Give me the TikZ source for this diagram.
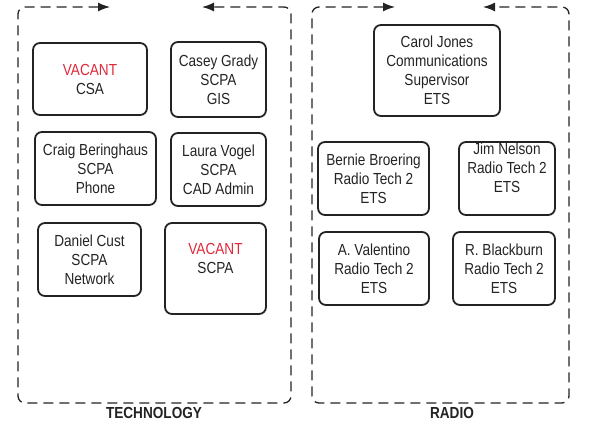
\documentclass[tikz,border=0pt]{standalone}
\usepackage{fontspec}
\setmainfont{Liberation Sans}[FakeStretch=0.85]
\usetikzlibrary{arrows.meta}
\definecolor{vacant}{RGB}{222,40,60}
\definecolor{ink}{RGB}{35,35,35}
\newcommand{\vac}{\textcolor{vacant}{VACANT}}
\tikzset{
  x=1pt, y=-1pt,
  card/.style={draw=ink, line width=1.8pt, rounded corners=7pt, inner sep=0pt,
    align=center, font=\fontsize{16}{19}\selectfont, text=ink},
  cardtext/.style={inner sep=0pt, align=center, font=\fontsize{16}{19}\selectfont, text=ink},
  frame/.style={draw=ink, line width=1.3pt, dash pattern=on 10pt off 6pt,
    rounded corners=7pt, {Latex[length=12pt,width=9pt]}-{Latex[length=12pt,width=9pt]}},
  grouplabel/.style={inner sep=0pt, font=\fontsize{16}{19}\selectfont\bfseries, text=ink}
}
\begin{document}
\begin{tikzpicture}
\useasboundingbox (0,0) rectangle (598,425);

% corners of the two group frames and the arrow ends on their top edges
\coordinate (tA) at (110,7);  \coordinate (tB) at (202,7);
\coordinate (tNW) at (18,7);  \coordinate (tSW) at (18,403);
\coordinate (tSE) at (291,403); \coordinate (tNE) at (291,7);
\coordinate (rA) at (395,7);  \coordinate (rB) at (483,7);
\coordinate (rNW) at (312,7); \coordinate (rSW) at (312,403);
\coordinate (rSE) at (569,403); \coordinate (rNE) at (569,7);

\draw[frame] (tA) -- (tNW) -- (tSW) -- (tSE) -- (tNE) -- (tB);
\draw[frame] (rA) -- (rNW) -- (rSW) -- (rSE) -- (rNE) -- (rB);

\node[grouplabel] (techlabel) at (154,413) {TECHNOLOGY};
\node[grouplabel] (radiolabel) at (452,413) {RADIO};

% technology group
\node[card, minimum width=114pt, minimum height=72pt] (csa) at (90,79) {\vac\\CSA};
\node[card, minimum width=95pt, minimum height=75pt] (gis) at (218.5,79.5) {Casey Grady\\SCPA\\GIS};
\node[card, minimum width=121pt, minimum height=73pt] (phone) at (95.5,168.5) {Craig Beringhaus\\SCPA\\Phone};
\node[card, minimum width=95pt, minimum height=73pt] (cad) at (218.5,169.5) {Laura Vogel\\SCPA\\CAD Admin};
\node[card, minimum width=103pt, minimum height=73pt] (net) at (89.5,259.5) {Daniel Cust\\SCPA\\Network};
\node[card, minimum width=101pt, minimum height=91pt] (scpa) at (215.5,268.5) {};
\node[cardtext] (scpatext) at ([yshift=10pt]scpa.center) {\vac\\SCPA};

% radio group
\node[card, minimum width=126pt, minimum height=91pt] (carol) at (437,70.5) {Carol Jones\\Communications\\Supervisor\\ETS};
\node[card, minimum width=111pt, minimum height=73pt] (bernie) at (373.5,178.5) {Bernie Broering\\Radio Tech 2\\ETS};
\node[card, minimum width=96pt, minimum height=73pt] (jim) at (507,178.5) {};
\node[cardtext] (jimtext) at ([yshift=11pt]jim.center) {Jim Nelson\\Radio Tech 2\\ETS};
\node[card, minimum width=110pt, minimum height=73pt] (valentino) at (374,268.5) {A. Valentino\\Radio Tech 2\\ETS};
\node[card, minimum width=102pt, minimum height=73pt] (blackburn) at (504,268.5) {R. Blackburn\\Radio Tech 2\\ETS};
\end{tikzpicture}
\end{document}
